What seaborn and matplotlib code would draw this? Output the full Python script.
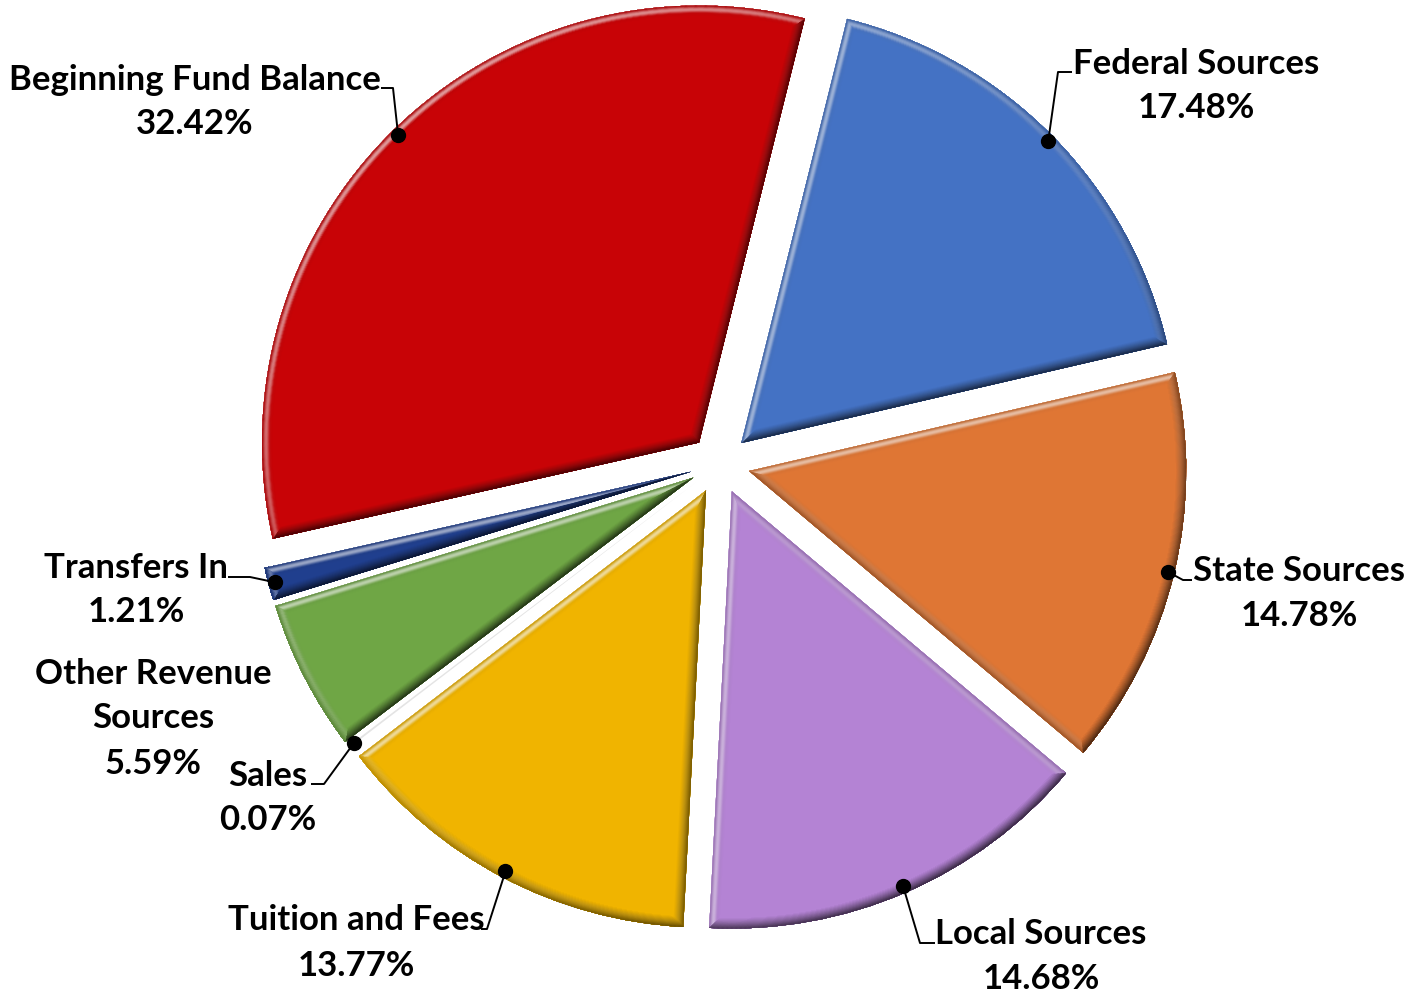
import numpy as np
import matplotlib
matplotlib.use("Agg")
import matplotlib.pyplot as plt
from matplotlib.collections import LineCollection
from matplotlib.colors import to_rgb
import seaborn as sns

# Revenue categories, clockwise from the top
categories = ["Federal Sources", "State Sources", "Local Sources", "Tuition and Fees",
              "Sales", "Other Revenue Sources", "Transfers In", "Beginning Fund Balance"]
shares = [17.48, 14.78, 14.68, 13.77, 0.07, 5.59, 1.21, 32.42]
label_lines = [["Federal Sources"], ["State Sources"], ["Local Sources"], ["Tuition and Fees"],
               ["Sales"], ["Other Revenue", "Sources"], ["Transfers In"], ["Beginning Fund Balance"]]
colors = ["#4472C4", "#DF7634", "#B483D4", "#F0B400",
          "#E4E4E4", "#6FA645", "#203F8E", "#C80306"]

sns.set_theme(style="white")
plt.rcParams["font.family"] = ["Lato", "DejaVu Sans"]

W, H, DPI = 1411, 994, 100
R_PX = 437.0            # pie radius in pixels
CX, CY = 720.0, 464.0   # pie centre in pixels (from top-left)
BEVEL_PX = 11.0         # depth of the bevelled rim
LINE_PX = 45.0          # distance between label lines


def P(px, py):
    """pixel position -> data coordinates (radius-1 pie)"""
    return ((px - CX) / R_PX, (CY - py) / R_PX)


fig = plt.figure(figsize=(W / DPI, H / DPI), dpi=DPI)
ax = fig.add_axes([0, 0, 1, 1])

explode = [30.0 / R_PX] * len(shares)
wedges, _ = ax.pie(shares, colors=colors, explode=explode, startangle=76,
                   counterclock=False, radius=1.0, center=(0, 0),
                   wedgeprops=dict(linewidth=0, antialiased=True))

ax.set_xlim(-CX / R_PX, (W - CX) / R_PX)
ax.set_ylim(-(H - CY) / R_PX, CY / R_PX)
ax.set_aspect("equal")
ax.axis("off")

# bevelled rim: layered strokes clipped inside each wedge, shaded by facing direction
light = np.array([-0.6, 0.8])
light /= np.linalg.norm(light)


def shade(base, n, t):
    """colour of the rim at depth t (0 = outer edge, 1 = inner end of bevel)"""
    s = float(np.dot(n, light))
    b = np.array(to_rgb(base))
    dark = (0.18 + 0.55 * max(-s, 0.0)) * (1 - t) ** 1.2
    lite = 0.6 * max(s, 0.0) * np.sin(np.pi * min(1.0, t * 1.3)) ** 2
    lite += 0.15 * np.sin(np.pi * t) ** 2 * max(0.0, 1 - abs(s))
    c = b * (1 - dark)
    c = c + (1 - c) * lite
    return tuple(np.clip(c, 0, 1))


for w, c in zip(wedges, colors):
    if w.theta2 - w.theta1 < 1.0:
        continue
    cx, cy = w.center
    r = w.r
    t1, t2 = np.radians(w.theta1), np.radians(w.theta2)
    p1 = (cx + r * np.cos(t1), cy + r * np.sin(t1))
    p2 = (cx + r * np.cos(t2), cy + r * np.sin(t2))
    segs = [[(cx, cy), p1], [(cx, cy), p2]]
    normals = [np.array([np.cos(t1 - np.pi / 2), np.sin(t1 - np.pi / 2)]),
               np.array([np.cos(t2 + np.pi / 2), np.sin(t2 + np.pi / 2)])]
    ts = np.linspace(t1, t2, 90)
    for a, b in zip(ts[:-1], ts[1:]):
        m = 0.5 * (a + b)
        segs.append([(cx + r * np.cos(a), cy + r * np.sin(a)),
                     (cx + r * np.cos(b), cy + r * np.sin(b))])
        normals.append(np.array([np.cos(m), np.sin(m)]))
    n_layers = 12
    for k in range(n_layers):
        depth = 1 - k / n_layers            # widest stroke first
        width_pt = 2 * BEVEL_PX * depth * 72 / DPI
        cols = [shade(c, n, depth) for n in normals]
        lc = LineCollection(segs, colors=cols, linewidths=width_pt,
                            capstyle="projecting", zorder=3 + k * 0.01)
        ax.add_collection(lc)
        lc.set_clip_path(w)

# label blocks (pixel centre of block) and leader elbows
label_pos = {
    "Federal Sources": (1196, 83.5),
    "State Sources": (1299, 591),
    "Local Sources": (1041, 954),
    "Tuition and Fees": (356, 940.5),
    "Sales": (268, 795.5),
    "Other Revenue Sources": (153, 716),
    "Transfers In": (136, 587.5),
    "Beginning Fund Balance": (195, 99.5),
}
leaders = {
    "Federal Sources": [(1058, 72), (1072, 72)],
    "State Sources": [(1183, 580), (1192, 580)],
    "Local Sources": [(920, 943), (935, 943)],
    "Tuition and Fees": [(487, 929), (481, 929)],
    "Sales": [(324, 784), (311, 784)],
    "Transfers In": [(250, 577), (228, 577)],
    "Beginning Fund Balance": [(393, 88), (381, 88)],
}

for w, cat, lines, val in zip(wedges, categories, label_lines, shares):
    rows = lines + [f"{val:.2f}%"]
    bx, by = label_pos[cat]
    for i, row in enumerate(rows):
        yc = by + (i - (len(rows) - 1) / 2) * LINE_PX
        x, y = P(bx, yc + 12.5)
        ax.text(x, y, row, ha="center", va="baseline", fontsize=25,
                fontweight="bold", color="black", zorder=6)
    if cat in leaders:
        tm = np.radians(0.5 * (w.theta1 + w.theta2))
        cx, cy = w.center
        dot = (cx + 0.985 * w.r * np.cos(tm), cy + 0.985 * w.r * np.sin(tm))
        pts = [dot] + [P(*q) for q in leaders[cat]]
        xs, ys = zip(*pts)
        ax.plot(xs, ys, color="black", lw=1.4, zorder=5, solid_capstyle="butt")
        ax.plot([dot[0]], [dot[1]], "o", color="black", ms=10, zorder=7)

fig.savefig("out.png", dpi=DPI, facecolor="white")
